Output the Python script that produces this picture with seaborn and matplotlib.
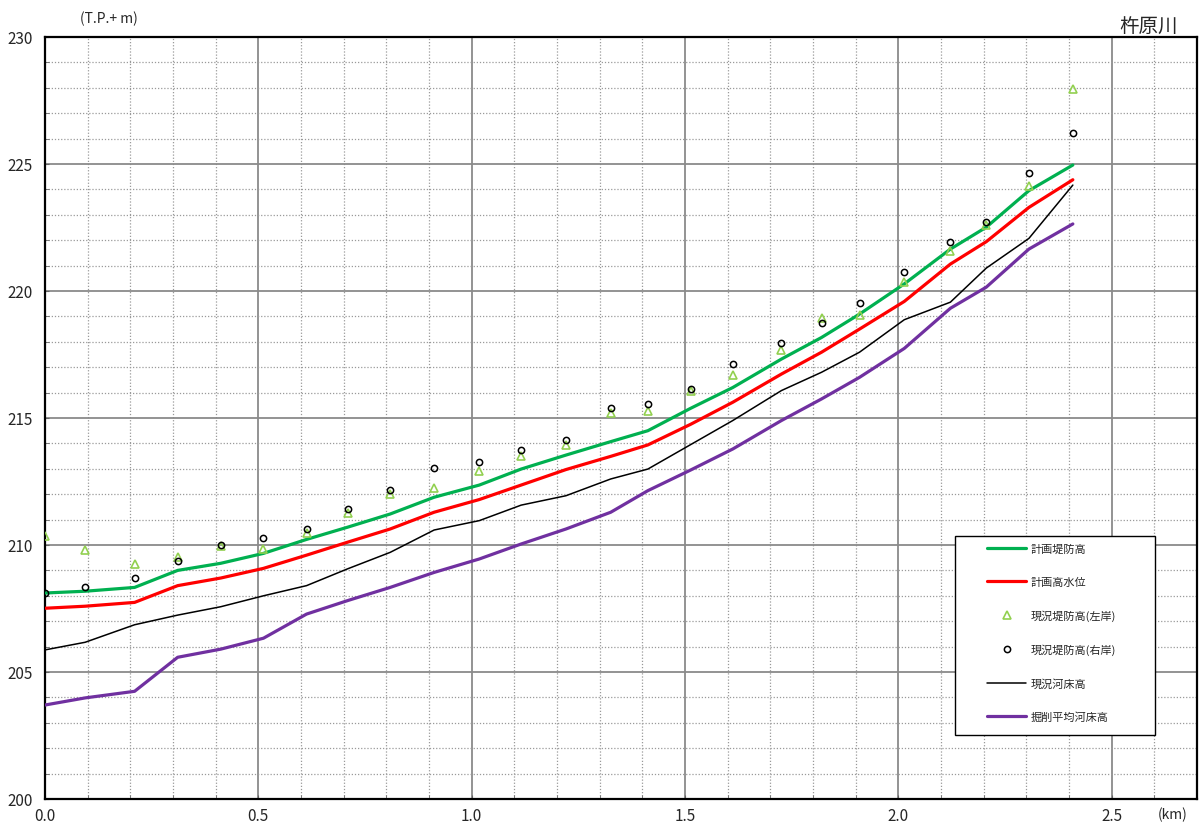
import numpy as np
import pandas as pd
import seaborn as sns
import matplotlib.pyplot as plt
from matplotlib.patches import Rectangle
from matplotlib.ticker import MultipleLocator

# distance along the river (km)
dist = [0.0, 0.094, 0.21, 0.311, 0.412, 0.512, 0.613, 0.709, 0.809, 0.912,
        1.018, 1.116, 1.221, 1.326, 1.413, 1.513, 1.612, 1.726, 1.82, 1.909,
        2.014, 2.122, 2.206, 2.306, 2.409]

plan_levee = [208.11, 208.18, 208.33, 209.0, 209.28, 209.67, 210.22, 210.7, 211.22, 211.88,
              212.36, 212.99, 213.54, 214.07, 214.5, 215.38, 216.2, 217.32, 218.17, 219.09,
              220.28, 221.65, 222.51, 223.95, 224.96]
plan_hwl = [207.51, 207.59, 207.74, 208.4, 208.7, 209.08, 209.6, 210.11, 210.63, 211.29,
            211.79, 212.36, 212.97, 213.49, 213.94, 214.75, 215.62, 216.73, 217.59, 218.5,
            219.59, 221.06, 221.94, 223.29, 224.38]
levee_left = [210.34, 209.82, 209.25, 209.52, 209.97, 209.84, 210.46, 211.26, 212.0, 212.24,
              212.9, 213.49, 213.94, 215.18, 215.29, 216.06, 216.7, 217.69, 218.94, 219.04,
              220.34, 221.56, 222.61, 224.15, 227.95]
levee_right = [208.1, 208.36, 208.69, 209.38, 210.0, 210.28, 210.64, 211.42, 212.17, 213.03,
               213.25, 213.75, 214.13, 215.38, 215.55, 216.14, 217.13, 217.94, 218.75, 219.53,
               220.76, 221.92, 222.73, 224.63, 226.21]
bed_now = [205.87, 206.17, 206.86, 207.24, 207.57, 208.0, 208.4, 209.06, 209.71, 210.59,
           210.96, 211.57, 211.94, 212.6, 212.99, 213.95, 214.9, 216.08, 216.8, 217.59,
           218.87, 219.56, 220.9, 222.07, 224.17]
bed_plan = [203.7, 203.98, 204.24, 205.58, 205.9, 206.33, 207.28, 207.81, 208.33, 208.92,
            209.45, 210.04, 210.63, 211.29, 212.14, 212.95, 213.78, 214.9, 215.75, 216.6,
            217.74, 219.32, 220.15, 221.65, 222.64]

labels = ['計画堤防高', '計画高水位', '現況堤防高(左岸)', '現況堤防高(右岸)', '現況河床高', '掘削平均河床高']

df = pd.DataFrame({'dist': dist, 'plan_levee': plan_levee, 'plan_hwl': plan_hwl,
                   'levee_left': levee_left, 'levee_right': levee_right,
                   'bed_now': bed_now, 'bed_plan': bed_plan})

sns.set_style("white")
plt.rcParams['font.family'] = ['Noto Sans CJK JP', 'DejaVu Sans']

fig = plt.figure(figsize=(12, 8.28), dpi=100)
ax = fig.add_axes([45 / 1200, 28 / 828, 1152 / 1200, 762 / 828])

sns.lineplot(data=df, x='dist', y='plan_levee', ax=ax, color='#00B050', lw=2.3, label=labels[0], zorder=5)
sns.lineplot(data=df, x='dist', y='plan_hwl', ax=ax, color='#FF0000', lw=2.3, label=labels[1], zorder=5)
sns.lineplot(data=df, x='dist', y='levee_left', ax=ax, color='#92D050', marker='^', linestyle='none',
             mfc='none', mec='#92D050', ms=6, mew=1.2, label=labels[2], zorder=6)
sns.lineplot(data=df, x='dist', y='levee_right', ax=ax, color='black', marker='o', linestyle='none',
             mfc='none', mec='black', ms=4.5, mew=1.1, label=labels[3], zorder=6)
sns.lineplot(data=df, x='dist', y='bed_now', ax=ax, color='black', lw=1.1, label=labels[4], zorder=5)
sns.lineplot(data=df, x='dist', y='bed_plan', ax=ax, color='#7030A0', lw=2.3, label=labels[5], zorder=5)

ax.set_xlim(0, 2.7)
ax.set_ylim(200, 230)
ax.xaxis.set_major_locator(MultipleLocator(0.5))
ax.xaxis.set_minor_locator(MultipleLocator(0.1))
ax.yaxis.set_major_locator(MultipleLocator(5))
ax.yaxis.set_minor_locator(MultipleLocator(1))
ax.set_xticks([0, 0.5, 1.0, 1.5, 2.0, 2.5])
ax.set_xticklabels(['0.0', '0.5', '1.0', '1.5', '2.0', '2.5'])
ax.set_xlabel('')
ax.set_ylabel('')

ax.grid(which='major', color='#8a8a8a', lw=1.3, ls='-')
ax.grid(which='minor', color='#9a9a9a', lw=0.9, ls=(0, (1, 1.5)))
ax.set_axisbelow(True)
ax.tick_params(which='both', direction='in', length=3, color='#666666',
               bottom=True, left=True, labelsize=11)
ax.tick_params(axis='y', pad=9)
ax.tick_params(axis='x', pad=6)
for s in ax.spines.values():
    s.set_color('black')
    s.set_linewidth(1.6)

fig.text(80 / 1200, 1 - 19 / 828, '(T.P.+ m)', fontsize=10, va='center', ha='left')
fig.text(1158 / 1200, 1 - 815 / 828, '(km)', fontsize=10, va='center', ha='left')
fig.text(1178 / 1200, 1 - 27 / 828, '杵原川', fontsize=14, va='center', ha='right')

# legend box
ax.add_patch(Rectangle((0.790, 0.084), 0.1736, 0.2613, transform=ax.transAxes,
                       facecolor='white', edgecolor='black', lw=1.0, zorder=8))
handles, labs = ax.get_legend_handles_labels()
leg = ax.legend(handles, labs, loc='upper left', bbox_to_anchor=(0.818, 0.335),
                frameon=False, fontsize=8, labelspacing=2.05, handlelength=3.5,
                handletextpad=0.4, borderpad=0, borderaxespad=0)
leg.set_zorder(9)

fig.savefig('out.png', dpi=100)
